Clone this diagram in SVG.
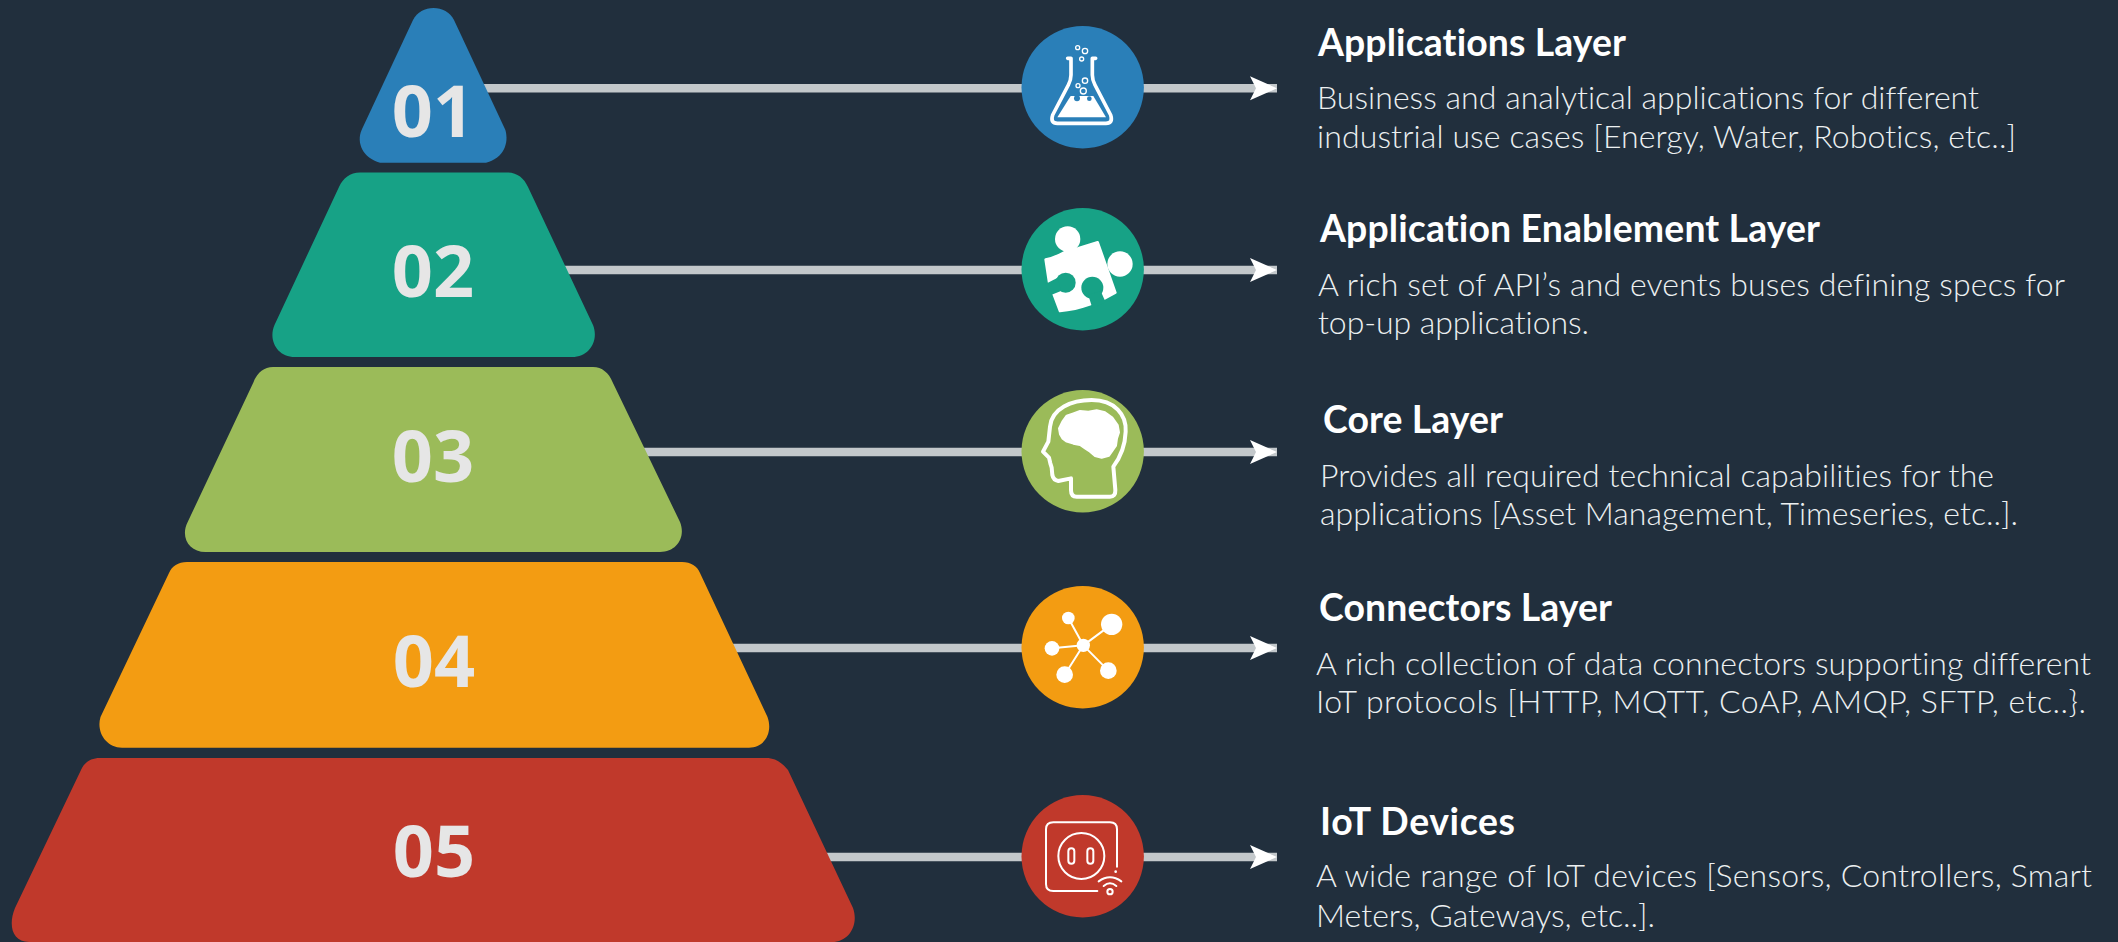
<svg xmlns="http://www.w3.org/2000/svg" width="2118" height="942" viewBox="0 0 2118 942">
<defs>
<marker id="arrow" markerUnits="userSpaceOnUse" markerWidth="30" markerHeight="26" refX="27" refY="12" orient="auto">
<path d="M0 0L27 12L0 24L6 12Z" fill="#fff"/>
</marker>
</defs>
<style>
text{font-variant-ligatures:none}
.num{font-family:"Open Sans","Noto Sans",sans-serif;font-weight:700;font-size:72px;fill:#e6e6e6;text-anchor:middle}
.title{font-family:Lato,"Liberation Sans",sans-serif;font-weight:700;font-size:37.400px;fill:#fff}
.body{font-family:Lato,"Liberation Sans",sans-serif;font-weight:300;font-size:32px;fill:#ecf0f1}
.conn{stroke:#c3c8cb;stroke-width:8.600;fill:none}
.ws{fill:none;stroke:#fff;stroke-linecap:round;stroke-linejoin:round}
.w{fill:#fff}
</style>
<rect width="2118" height="942" fill="#212f3d"/>
<g id="connectors">
<path class="conn" d="M480 88.300H1277" marker-end="url(#arrow)"/>
<path class="conn" d="M560 270H1277" marker-end="url(#arrow)"/>
<path class="conn" d="M640 452H1277" marker-end="url(#arrow)"/>
<path class="conn" d="M730 648H1277" marker-end="url(#arrow)"/>
<path class="conn" d="M820 857H1277" marker-end="url(#arrow)"/>
</g>
<g id="layer-01">
<path fill="#2a7fb8" d="M413 20C417 12 425 8 433.500 8C442 8 450 12 454 20L505.400 130C509 143 504 158 486 162.700H380C363 158 356 143 361.600 130Z"/>
<text class="num" x="433" y="137">01</text>
</g>
<g id="layer-02">
<path fill="#17a286" d="M339 187C343 178 350 172.500 360 172.500H507C517 172.500 524 178 528 187L593 325C599 340 590 357 572 357H295C277 357 268 340 274.500 325Z"/>
<text class="num" x="433" y="297">02</text>
</g>
<g id="layer-03">
<path fill="#9bbb59" d="M253.600 382C257 373 264 367 273 367H593C602 367 609 373 612.500 382L680 522C686 537 677 552 660 552H205.500C189 552 180 537 187.700 522Z"/>
<text class="num" x="433" y="482">03</text>
</g>
<g id="layer-04">
<path fill="#f39c12" d="M169 573C172 566 178 562 187 562H682C691 562 697 566 700 573L767.500 717C773 732 765 747.700 749 747.700H122C106 747.700 96 732 100.500 717Z"/>
<text class="num" x="434" y="687">04</text>
</g>
<g id="layer-05">
<path fill="#c0392b" d="M81 770C84 763 90 758 100 758H766C776 758 782 763 788 770L853 908C859 925 849 942 832 942H29C12 942 8 925 15 908Z"/>
<text class="num" x="434" y="877">05</text>
</g>
<g id="icon-01">
<circle cx="1082.700" cy="87.300" r="61.200" fill="#2a7fb8"/>
<g transform="translate(1000 10) scale(.33333)">
<path class="ws" stroke-width="11" d="M203 145H213V195Q213 210 205 225L158 315Q150 340 172 340H318Q340 340 332 315L285 225Q277 210 277 195V145H287"/>
<path class="w" d="M172 322L212 258H280L318 322Z"/>
<circle cx="231" cy="265" r="9" fill="#2a7fb8"/><circle cx="268" cy="266" r="7" fill="#2a7fb8"/>
<g class="ws" stroke-width="4"><circle cx="233" cy="113" r="6"/><circle cx="255" cy="123" r="8"/><circle cx="245" cy="147" r="6"/><circle cx="255" cy="212" r="8"/><circle cx="234" cy="227" r="6"/><circle cx="250" cy="243" r="9"/></g>
</g>
</g>
<g id="icon-02">
<circle cx="1082.700" cy="269.300" r="61.200" fill="#17a286"/>
<g transform="translate(1035 215) scale(.33333)">
<circle class="w" cx="98" cy="72" r="38"/><circle class="w" cx="255" cy="147" r="38"/>
<path class="w" stroke="#fff" stroke-width="8" stroke-linejoin="round" d="M32 134Q60 128 88 112L130 100L188 82L241 233L205 252L165 268Q120 284 75 288L55 235L42 200Z"/>
<circle cx="92" cy="203" r="30" fill="#17a286"/>
<circle cx="172" cy="218" r="33" fill="#17a286"/>
<path fill="#17a286" d="M30 208L68 188L78 228L48 240Z"/>
<path fill="#17a286" d="M160 240L197 228L212 262L172 280Z"/>
</g>
</g>
<g id="icon-03">
<circle cx="1082.700" cy="451.300" r="61.200" fill="#9bbb59"/>
<g transform="translate(1035 395) scale(.33333)">
<path class="ws" stroke-width="12" d="M108 250L70 258Q55 255 52 240L50 218L46 205L42 188L24 170L40 140L45 95C50 40 110 15 170 15C240 15 275 60 272 110C270 165 250 195 235 215L241 285Q242 305 225 305H125Q108 305 108 285Z"/>
<path class="w" stroke="#fff" stroke-width="6" stroke-linejoin="round" d="M75 118L72 100L82 80L95 62L115 55L135 48L160 50L185 46L210 52L232 68L248 90L252 112L246 130L243 152L232 168L222 182L200 188L180 183L165 170L150 160L135 150L115 146L95 140L82 130Z"/>
</g>
</g>
<g id="icon-04">
<circle cx="1082.700" cy="647.300" r="61.200" fill="#f39c12"/>
<g transform="translate(1000 570) scale(.33333)">
<path stroke="#fff" stroke-width="6" d="M250 226L205 144M250 226L335 163M250 226L156 235M250 226L194 314M250 226L325 302"/>
<circle class="w" cx="250" cy="226" r="20"/><circle class="w" cx="205" cy="144" r="19"/><circle class="w" cx="335" cy="163" r="32"/><circle class="w" cx="156" cy="235" r="22"/><circle class="w" cx="194" cy="314" r="25"/><circle class="w" cx="325" cy="302" r="25"/>
</g>
</g>
<g id="icon-05">
<circle cx="1082.700" cy="856.300" r="61.200" fill="#c0392b"/>
<g transform="translate(1035 810) scale(.33333)">
<g class="ws" stroke-width="6">
<path d="M187 243H55Q33 243 33 222V58Q33 37 55 37H225Q246 37 246 58V170"/>
<circle cx="139" cy="138" r="69"/>
<rect x="100" y="115" width="18" height="46" rx="9"/>
<rect x="157" y="115" width="18" height="46" rx="9"/>
<circle cx="225" cy="245" r="8"/>
<path d="M206 228Q225 212 244 228M191 214Q225 190 259 214"/>
</g>
<circle class="w" cx="242" cy="185" r="4"/>
</g>
</g>
<g id="text-01">
<text class="title" x="1318" y="56" textLength="308">Applications Layer</text>
<text class="body" x="1317" y="109" textLength="662">Business and analytical applications for different</text>
<text class="body" x="1317" y="148" textLength="699">industrial use cases [Energy, Water, Robotics, etc..]</text>
</g>
<g id="text-02">
<text class="title" x="1320" y="242" textLength="500">Application Enablement Layer</text>
<text class="body" x="1318" y="296" textLength="747">A rich set of API’s and events buses defining specs for</text>
<text class="body" x="1318" y="334" textLength="271">top-up applications.</text>
</g>
<g id="text-03">
<text class="title" x="1323" y="433" textLength="180">Core Layer</text>
<text class="body" x="1320" y="486.500" textLength="674">Provides all required technical capabilities for the</text>
<text class="body" x="1320" y="524.500" textLength="698">applications [Asset Management, Timeseries, etc..].</text>
</g>
<g id="text-04">
<text class="title" x="1319" y="621" textLength="293">Connectors Layer</text>
<text class="body" x="1316" y="675" textLength="775">A rich collection of data connectors supporting different</text>
<text class="body" x="1316" y="713" textLength="770">IoT protocols [HTTP, MQTT, CoAP, AMQP, SFTP, etc..}.</text>
</g>
<g id="text-05">
<text class="title" x="1320" y="834.500" textLength="195">IoT Devices</text>
<text class="body" x="1316" y="887" textLength="776">A wide range of IoT devices [Sensors, Controllers, Smart</text>
<text class="body" x="1316" y="926.500" textLength="339">Meters, Gateways, etc..].</text>
</g>
</svg>
